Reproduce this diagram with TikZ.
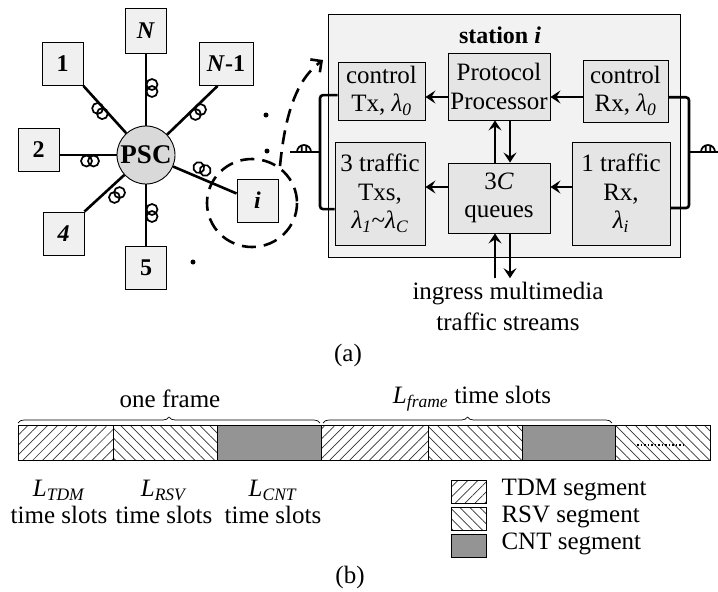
\documentclass[tikz,border=0pt]{standalone}
\usepackage{fontspec}
\setmainfont{Liberation Serif}
\usepackage{tikz}
\usetikzlibrary{arrows.meta, calc, patterns.meta, decorations.pathreplacing}
\tikzset{every picture/.style={x=1pt, y=-1pt}}
\tikzset{
  stn/.style={draw, line width=.9pt, fill=black!6, minimum width=41, minimum height=43,
    inner sep=0pt, font=\fontsize{24}{28}\selectfont\bfseries},
  hub/.style={draw, circle, line width=.9pt, fill=black!15, minimum size=58, inner sep=0pt,
    font=\fontsize{27}{30}\selectfont\bfseries},
  frame/.style={draw, line width=1pt, fill=black!5, minimum width=352, minimum height=243},
  unit/.style={draw, line width=.9pt, fill=black!10, inner sep=1pt, align=center},
  link/.style={line width=2.6pt},
  bus/.style={line width=2.6pt, rounded corners=3pt},
  ring/.style={line width=2.6pt, dash pattern=on 14pt off 8pt},
  flow/.style={line width=1.4pt, -{Stealth[length=10pt, width=13pt, inset=4pt]}},
  seg/.style={draw, line width=.9pt},
  tdm/.style={pattern={Lines[angle=45, distance=7pt, line width=.7pt]}, pattern color=black!80},
  rsv/.style={pattern={Lines[angle=-45, distance=7pt, line width=.7pt]}, pattern color=black!80},
  cnt/.style={fill=black!42},
  spool/.pic={\draw[line width=1.7pt] (-3.5,0) circle[radius=5.5] (3.5,0) circle[radius=5.5];},
  dome/.pic={\draw[line width=1.7pt] (-7,0) arc[start angle=180, end angle=360, radius=7]
    (-2.3,0) -- (-2.3,-6) (2.3,0) -- (2.3,-6);}
}
\newcommand{\wlen}[1]{\textit{λ}\textsubscript{\textit{#1}}}

\begin{document}
\begin{tikzpicture}[font=\fontsize{25}{28.5}\selectfont]
    \useasboundingbox (0,0) rectangle (718,592);

    % star network round the PSC
    \node[hub] (psc) at (146,155) {PSC};
    \node[stn, minimum height=45] (bN) at (146,30.5) {\textit{N}};
    \node[stn] (b1) at (62.5,64) {1};
    \node[stn, minimum width=54] (bN1) at (226,64) {\textit{N}-1};
    \node[stn] (b2) at (38.5,150) {2};
    \node[stn] (b4) at (63.5,233.5) {\textit{4}};
    \node[stn] (b5) at (146,267.5) {5};
    \node[stn] (bi) at (257.5,200.5) {\textit{i}};

    \draw[link] (psc) -- (bN);
    \draw[link] (psc) -- (b1.south east);
    \draw[link] (psc) -- ($(bN1.south west)+(19,0)$);
    \draw[link] (psc.west) -- (b2.east |- psc.west);
    \draw[link] (psc) -- (b4.north east);
    \draw[link] (psc) -- (b5);
    \draw[link] (psc) -- ($(bi.west)+(0,-7)$);

    \pic[rotate=90] at (152,88) {spool};
    \pic[rotate=-48] at (100,111) {spool};
    \pic[rotate=44] at (198,112) {spool};
    \pic at (90,161) {spool};
    \pic[rotate=44] at (117,195) {spool};
    \pic[rotate=90] at (152,213) {spool};
    \pic[rotate=-24] at (202,169) {spool};

    \fill (266,115) circle[radius=2.5] (267,151) circle[radius=2.5] (193,262) circle[radius=2.5];

    % zoom on station i
    \draw[ring] (252,203) circle[x radius=45, y radius=44];
    \draw[ring, -{Straight Barb[length=8pt, width=16pt]}] (280,166) .. controls (285,115) and (296,80) .. (323,60);

    \node[frame] (stat) at (504,135.5) {};
    \node[font=\fontsize{24}{28}\selectfont\bfseries] (title) at (500,35) {station \textit{i}};
    \node[unit, minimum width=87, minimum height=58] (ctx) at (381.5,91) {control\\Tx, \wlen{0}};
    \node[unit, minimum width=102, minimum height=67] (pp) at (499,86.5) {Protocol\\Processor};
    \node[unit, minimum width=85, minimum height=62] (crx) at (625.5,91) {control\\Rx, \wlen{0}};
    \node[unit, minimum width=90, minimum height=103] (ttx) at (380,193.5) {3 traffic\\Txs,\\\wlen{1}\textasciitilde\wlen{C}};
    \node[unit, minimum width=102, minimum height=70] (que) at (499,198) {3\textit{C}\\queues};
    \node[unit, minimum width=98, minimum height=103] (trx) at (621,193.5) {1 traffic\\Rx,\\\wlen{i}};
    \node[align=center, font=\fontsize{25}{31}\selectfont] (ing) at (508,306) {ingress multimedia\\traffic streams};

    \draw[flow] (pp.west |- 0,97) -- (ctx.east |- 0,97);
    \draw[flow] (crx.west |- 0,97) -- (pp.east |- 0,97);
    \draw[flow] (que.north -| 495,0) -- (pp.south -| 495,0);
    \draw[flow] (pp.south -| 510,0) -- (que.north -| 510,0);
    \draw[flow] (que.west |- 0,187) -- (ttx.east |- 0,187);
    \draw[flow] (trx.west |- 0,187) -- (que.east |- 0,187);
    \draw[flow] (ing.north -| 495,0) -- (que.south -| 495,0);
    \draw[flow] (que.south -| 510,0) -- (ing.north -| 510,0);

    % fibre ports
    \coordinate (lport) at (290,152);
    \coordinate (rport) at (718,152);
    \draw[bus] ($(ctx.south west)!.43!(ctx.north west)$) -| (320,152) |- ($(ttx.south west)!.35!(ttx.north west)$);
    \draw[bus] ($(crx.south east)!.40!(crx.north east)$) -| (689,152) |- ($(trx.south east)!.36!(trx.north east)$);
    \draw[bus] (lport) -- (320,152);
    \draw[bus] (689,152) -- (rport);
    \pic at (304,152) {dome};
    \pic at (708,152) {dome};

    \node (capa) at (348,355) {(a)};

    % frame structure
    \foreach \a/\b/\kind in {18/113/tdm, 113/217/rsv, 217/321/cnt, 321/428/tdm, 428/522/rsv, 522/615/cnt, 615/710/rsv}
        \draw[seg, \kind] (\a,425) rectangle (\b,460);
    \draw[line width=1.5pt, dotted] (637,445) -- (683,445);

    \draw[line width=.7pt, decorate, decoration={brace, amplitude=6pt}] (18,423) -- (320,423);
    \draw[line width=.7pt, decorate, decoration={brace, amplitude=6pt}] (323,423) -- (612,423);
    \node (one) at (170,399) {one frame};
    \node (lfr) at (472,399) {\textit{L}\textsubscript{\textit{frame}} time slots};

    \node[align=center, font=\fontsize{25}{27}\selectfont] (ltdm) at (59,502) {\textit{L}\textsubscript{\textit{TDM}}\\time slots};
    \node[align=center, font=\fontsize{25}{27}\selectfont] (lrsv) at (164,502) {\textit{L}\textsubscript{\textit{RSV}}\\time slots};
    \node[align=center, font=\fontsize{25}{27}\selectfont] (lcnt) at (273,502) {\textit{L}\textsubscript{\textit{CNT}}\\time slots};

    % legend
    \node[seg, tdm, minimum width=35, minimum height=23] (ktdm) at (468.5,491.5) {};
    \node[seg, rsv, minimum width=35, minimum height=23] (krsv) at (468.5,518.5) {};
    \node[seg, cnt, minimum width=35, minimum height=23] (kcnt) at (468.5,545.5) {};
    \node[anchor=base west] (ttdm) at (498,495) {TDM segment};
    \node[anchor=base west] (trsv) at (498,522) {RSV segment};
    \node[anchor=base west] (tcnt) at (498,549) {CNT segment};

    \node (capb) at (350,577) {(b)};
\end{tikzpicture}
\end{document}
